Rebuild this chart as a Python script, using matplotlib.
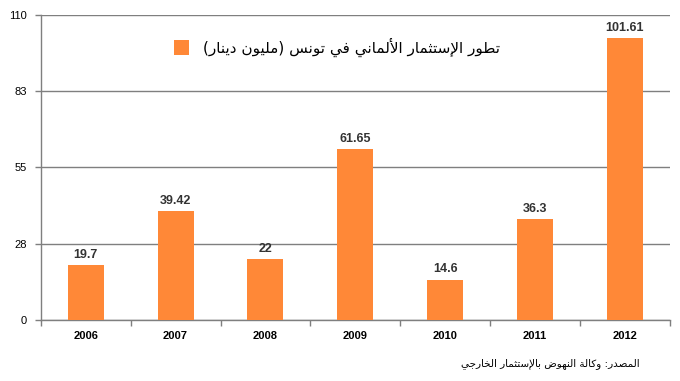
import matplotlib
matplotlib.use("Agg")
import matplotlib.pyplot as plt

years = ["2006", "2007", "2008", "2009", "2010", "2011", "2012"]
values = [19.7, 39.42, 22, 61.65, 14.6, 36.3, 101.61]
value_labels = ["19.7", "39.42", "22", "61.65", "14.6", "36.3", "101.61"]
y_ticks = [0, 27.5, 55, 82.5, 110]
y_tick_labels = ["0", "28", "55", "83", "110"]
title_text = "تطور الإستثمار الألماني في تونس (مليون دينار)"
source_text = "المصدر: وكالة النهوض بالإستثمار الخارجي"

# matplotlib does not shape Arabic, so map letters to presentation forms by hand
# (isolated base code, dual-joining?)
FORMS = {
    "ا": (0xFE8D, False), "أ": (0xFE83, False), "إ": (0xFE87, False),
    "ب": (0xFE8F, True), "ة": (0xFE93, False), "ت": (0xFE95, True),
    "ث": (0xFE99, True), "ج": (0xFE9D, True), "خ": (0xFEA5, True),
    "د": (0xFEA9, False), "ر": (0xFEAD, False), "س": (0xFEB1, True),
    "ص": (0xFEB9, True), "ض": (0xFEBD, True), "ط": (0xFEC1, True),
    "ف": (0xFED1, True), "ك": (0xFED9, True), "ل": (0xFEDD, True),
    "م": (0xFEE1, True), "ن": (0xFEE5, True), "ه": (0xFEE9, True),
    "و": (0xFEED, False), "ي": (0xFEF1, True),
}
LAM_ALEF = {"ا": 0xFEFB, "أ": 0xFEF7, "إ": 0xFEF9}


def shape(text):
    chars = list(text)
    out = []
    i = 0
    prev_joins = False  # previous letter connects forward
    while i < len(chars):
        c = chars[i]
        if c == "ل" and i + 1 < len(chars) and chars[i + 1] in LAM_ALEF:
            base = LAM_ALEF[chars[i + 1]]
            out.append(chr(base + (1 if prev_joins else 0)))
            prev_joins = False
            i += 2
            continue
        if c not in FORMS:
            out.append(c)
            prev_joins = False
            i += 1
            continue
        base, dual = FORMS[c]
        nxt = chars[i + 1] if i + 1 < len(chars) else None
        if dual and nxt in FORMS:
            form = 3 if prev_joins else 2
            prev_joins = True
        else:
            form = 1 if prev_joins else 0
            prev_joins = False
        out.append(chr(base + form))
        i += 1
    vis = "".join(reversed(out))
    return vis.translate(str.maketrans("()", ")("))


orange = "#FF8837"
grid_col = "#7f7f7f"

fig = plt.figure(figsize=(6.8, 3.81), dpi=100)
ax = fig.add_axes([0.060, 0.160, 0.925, 0.801])

x = list(range(len(years)))
bars = ax.bar(x, values, width=0.4, color=orange, zorder=3)

for xi, v, lab in zip(x, values, value_labels):
    ax.text(xi, v + 1.5, lab, ha="center", va="bottom", fontsize=9,
            fontweight="bold", color="#333333", family="Liberation Sans", zorder=4)

ax.set_xlim(-0.5, len(years) - 0.5)
ax.set_ylim(0, 110)
ax.set_yticks(y_ticks)
ax.set_yticklabels(y_tick_labels, fontsize=8, family="Liberation Sans")
ax.set_xticks(x)
ax.set_xticklabels(years, fontsize=8, fontweight="bold", family="Liberation Sans")
ax.set_xticks([i - 0.5 for i in range(len(years) + 1)], minor=True)
ax.tick_params(axis="x", which="major", length=0, pad=8)
ax.tick_params(axis="x", which="minor", length=4, color=grid_col, width=1)
ax.tick_params(axis="y", length=4, color=grid_col, width=1, pad=6)

ax.yaxis.grid(True, color=grid_col, linewidth=1, zorder=0)
ax.set_axisbelow(True)
for s in ["top", "right"]:
    ax.spines[s].set_visible(False)
for s in ["left", "bottom"]:
    ax.spines[s].set_color(grid_col)
    ax.spines[s].set_linewidth(1)

leg = ax.legend([bars], [shape(title_text)], loc="upper left",
                bbox_to_anchor=(0.19, 0.97), frameon=False,
                prop={"family": "DejaVu Sans", "size": 11},
                handlelength=1.0, handleheight=1.1, handletextpad=0.9)

fig.text(0.94, 0.045, shape(source_text), ha="right", va="center",
         fontsize=7.5, family="DejaVu Sans", color="#000000")

fig.savefig("out.png", dpi=100)
